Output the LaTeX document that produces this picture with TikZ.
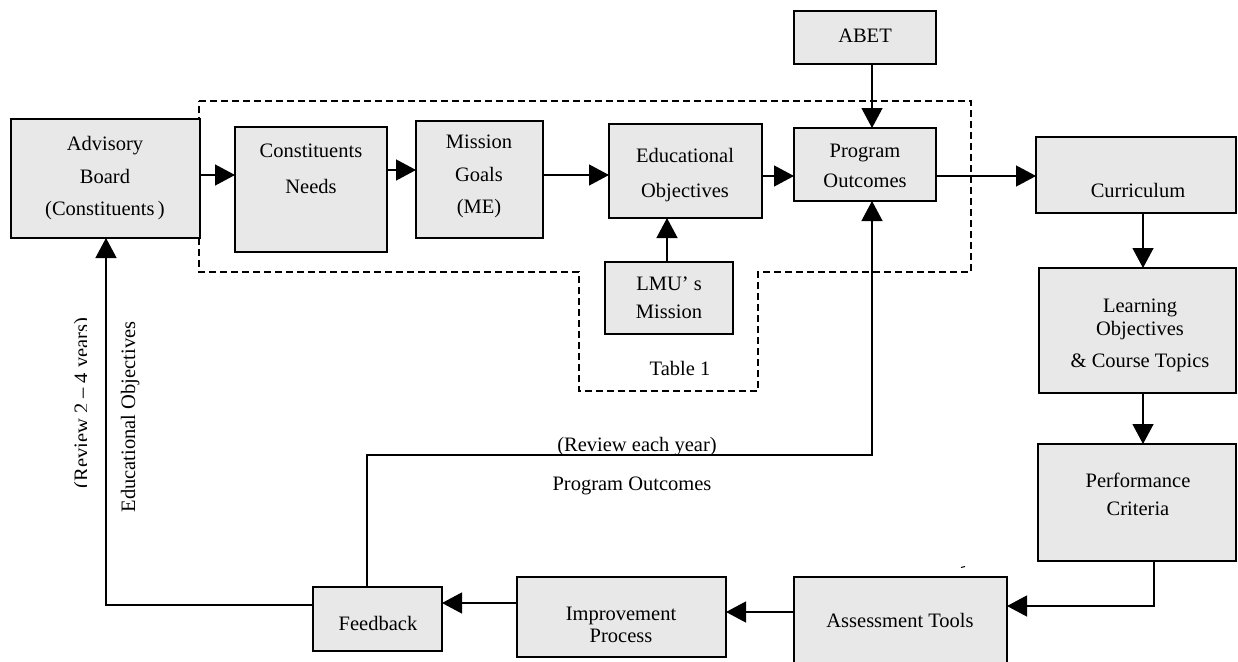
\documentclass[tikz,border=0pt]{standalone}
\usepackage{fontspec}
\setmainfont{Liberation Serif}
\usetikzlibrary{arrows.meta}
\definecolor{boxgray}{RGB}{232,232,232}
\tikzset{
  box/.style={draw=black, fill=boxgray, line width=1.4pt, inner sep=0pt, outer sep=0pt},
  txt/.style={inner sep=0pt, outer sep=0pt, font=\fontsize{20.5pt}{24pt}\selectfont, text height=14pt, text depth=4pt},
  arr/.style={line width=1.3pt, -{Triangle[length=20pt,width=21pt]}},
  region/.style={line width=1.4pt, dash pattern=on 7pt off 4pt}
}
\begin{document}
\begin{tikzpicture}[x=1pt,y=-1pt]
\useasboundingbox (0,0) rectangle (1238,661);
\fill[white] (0,0) rectangle (1238,661);

% dashed region
\draw[region] (199,101) -- (971,101) -- (971,272) -- (758,272) -- (758,391)
  -- (579,391) -- (579,272) -- (199,272) -- cycle;

% boxes
\node[box, minimum width=189pt, minimum height=119pt] (adv) at (105.5,178.5) {};
\node[box, minimum width=152pt, minimum height=125pt] (cons) at (311,189.5) {};
\node[box, minimum width=127pt, minimum height=117pt] (mis) at (479.5,179.5) {};
\node[box, minimum width=153pt, minimum height=94pt] (edu) at (685.5,171) {};
\node[box, minimum width=128pt, minimum height=72pt] (lmu) at (669,298) {};
\node[box, minimum width=142pt, minimum height=73pt] (po) at (865,164.5) {};
\node[box, minimum width=142pt, minimum height=53pt] (abet) at (865,37.5) {};
\node[box, minimum width=200pt, minimum height=76pt] (cur) at (1136,175) {};
\node[box, minimum width=197pt, minimum height=125pt] (learn) at (1137.5,330.5) {};
\node[box, minimum width=198pt, minimum height=117pt] (perf) at (1137,502.5) {};
\node[box, minimum width=213pt, minimum height=87pt] (assess) at (900.5,620.5) {};
\node[box, minimum width=209pt, minimum height=80pt] (impr) at (621.5,617) {};
\node[box, minimum width=129pt, minimum height=64pt] (fb) at (377.5,619) {};

% texts in boxes
\node[txt] (t1) at (105,145) {Advisory};
\node[txt] (t2) at (105,178) {Board};
\node[txt] (t3) at (105,210) {(Constituents\,)};
\node[txt] (t4) at (311,152) {Constituents};
\node[txt] (t5) at (311,188) {Needs};
\node[txt] (t6) at (479,143) {Mission};
\node[txt] (t7) at (479,176) {Goals};
\node[txt] (t8) at (479,208) {(ME)};
\node[txt] (t9) at (685,157) {Educational};
\node[txt] (t10) at (685,192) {Objectives};
\node[txt] (t11) at (669,285) {LMU’ s};
\node[txt] (t12) at (669,313) {Mission};
\node[txt] (t13) at (865,152) {Program};
\node[txt] (t14) at (865,182) {Outcomes};
\node[txt] (t15) at (865,37) {ABET};
\node[txt] (t16) at (1138,192) {Curriculum};
\node[txt] (t17) at (1140,307) {Learning};
\node[txt] (t18) at (1140,330) {Objectives};
\node[txt] (t19) at (1140,362) {\& Course Topics};
\node[txt] (t20) at (1138,482) {Performance};
\node[txt] (t21) at (1138,510) {Criteria};
\node[txt] (t22) at (900,622) {Assessment Tools};
\node[txt] (t23) at (621,615) {Improvement};
\node[txt] (t24) at (621,637) {Process};
\node[txt] (t25) at (378,625) {Feedback};
\node[txt] (t26) at (680,370) {Table 1};
\node[txt] (t27) at (637,446) {(Review each year)};
\node[txt] (t28) at (632,485) {Program Outcomes};
\node[txt, rotate=90] (t29) at (130,417) {Educational Objectives};
\begin{scope}
  \clip (40,250) rectangle (86.5,560);
  \node[inner sep=0pt, outer sep=0pt, font=\fontsize{20.5pt}{24pt}\selectfont, rotate=90, anchor=base] (t30) at (88,403) {(Review 2 – 4 years)};
\end{scope}

% connectors
\draw[arr] (adv.east |- 0,175) -- (cons.west |- 0,175);
\draw[arr] (cons.east |- 0,170) -- (mis.west |- 0,170);
\draw[arr] (mis.east |- 0,175) -- (edu.west |- 0,175);
\draw[arr] (edu.east |- 0,176) -- (po.west |- 0,176);
\draw[arr] (abet.south -| 872,0) -- (po.north -| 872,0);
\draw[arr] (lmu.north -| 667,0) -- (edu.south -| 667,0);
\draw[arr] (po.east |- 0,176) -- (cur.west |- 0,176);
\draw[arr] (cur.south -| 1143,0) -- (learn.north -| 1143,0);
\draw[arr] (learn.south -| 1143,0) -- (perf.north -| 1143,0);
\draw[arr] (perf.south -| 1154,0) |- (assess.east |- 0,606);
\draw[arr] (assess.west |- 0,612) -- (impr.east |- 0,612);
\draw[arr] (impr.west |- 0,603) -- (fb.east |- 0,603);
\draw[arr] (fb.west |- 0,605) -| (adv.south -| 106,0);
\coordinate (pobend) at (872,455);
\draw[arr] (fb.north -| 367,0) |- (pobend) -- (po.south -| 872,0);

% stray mark
\coordinate (m1) at (961,567.5);
\coordinate (m2) at (965,566.5);
\draw[line width=1pt] (m1) -- (m2);
\end{tikzpicture}
\end{document}
